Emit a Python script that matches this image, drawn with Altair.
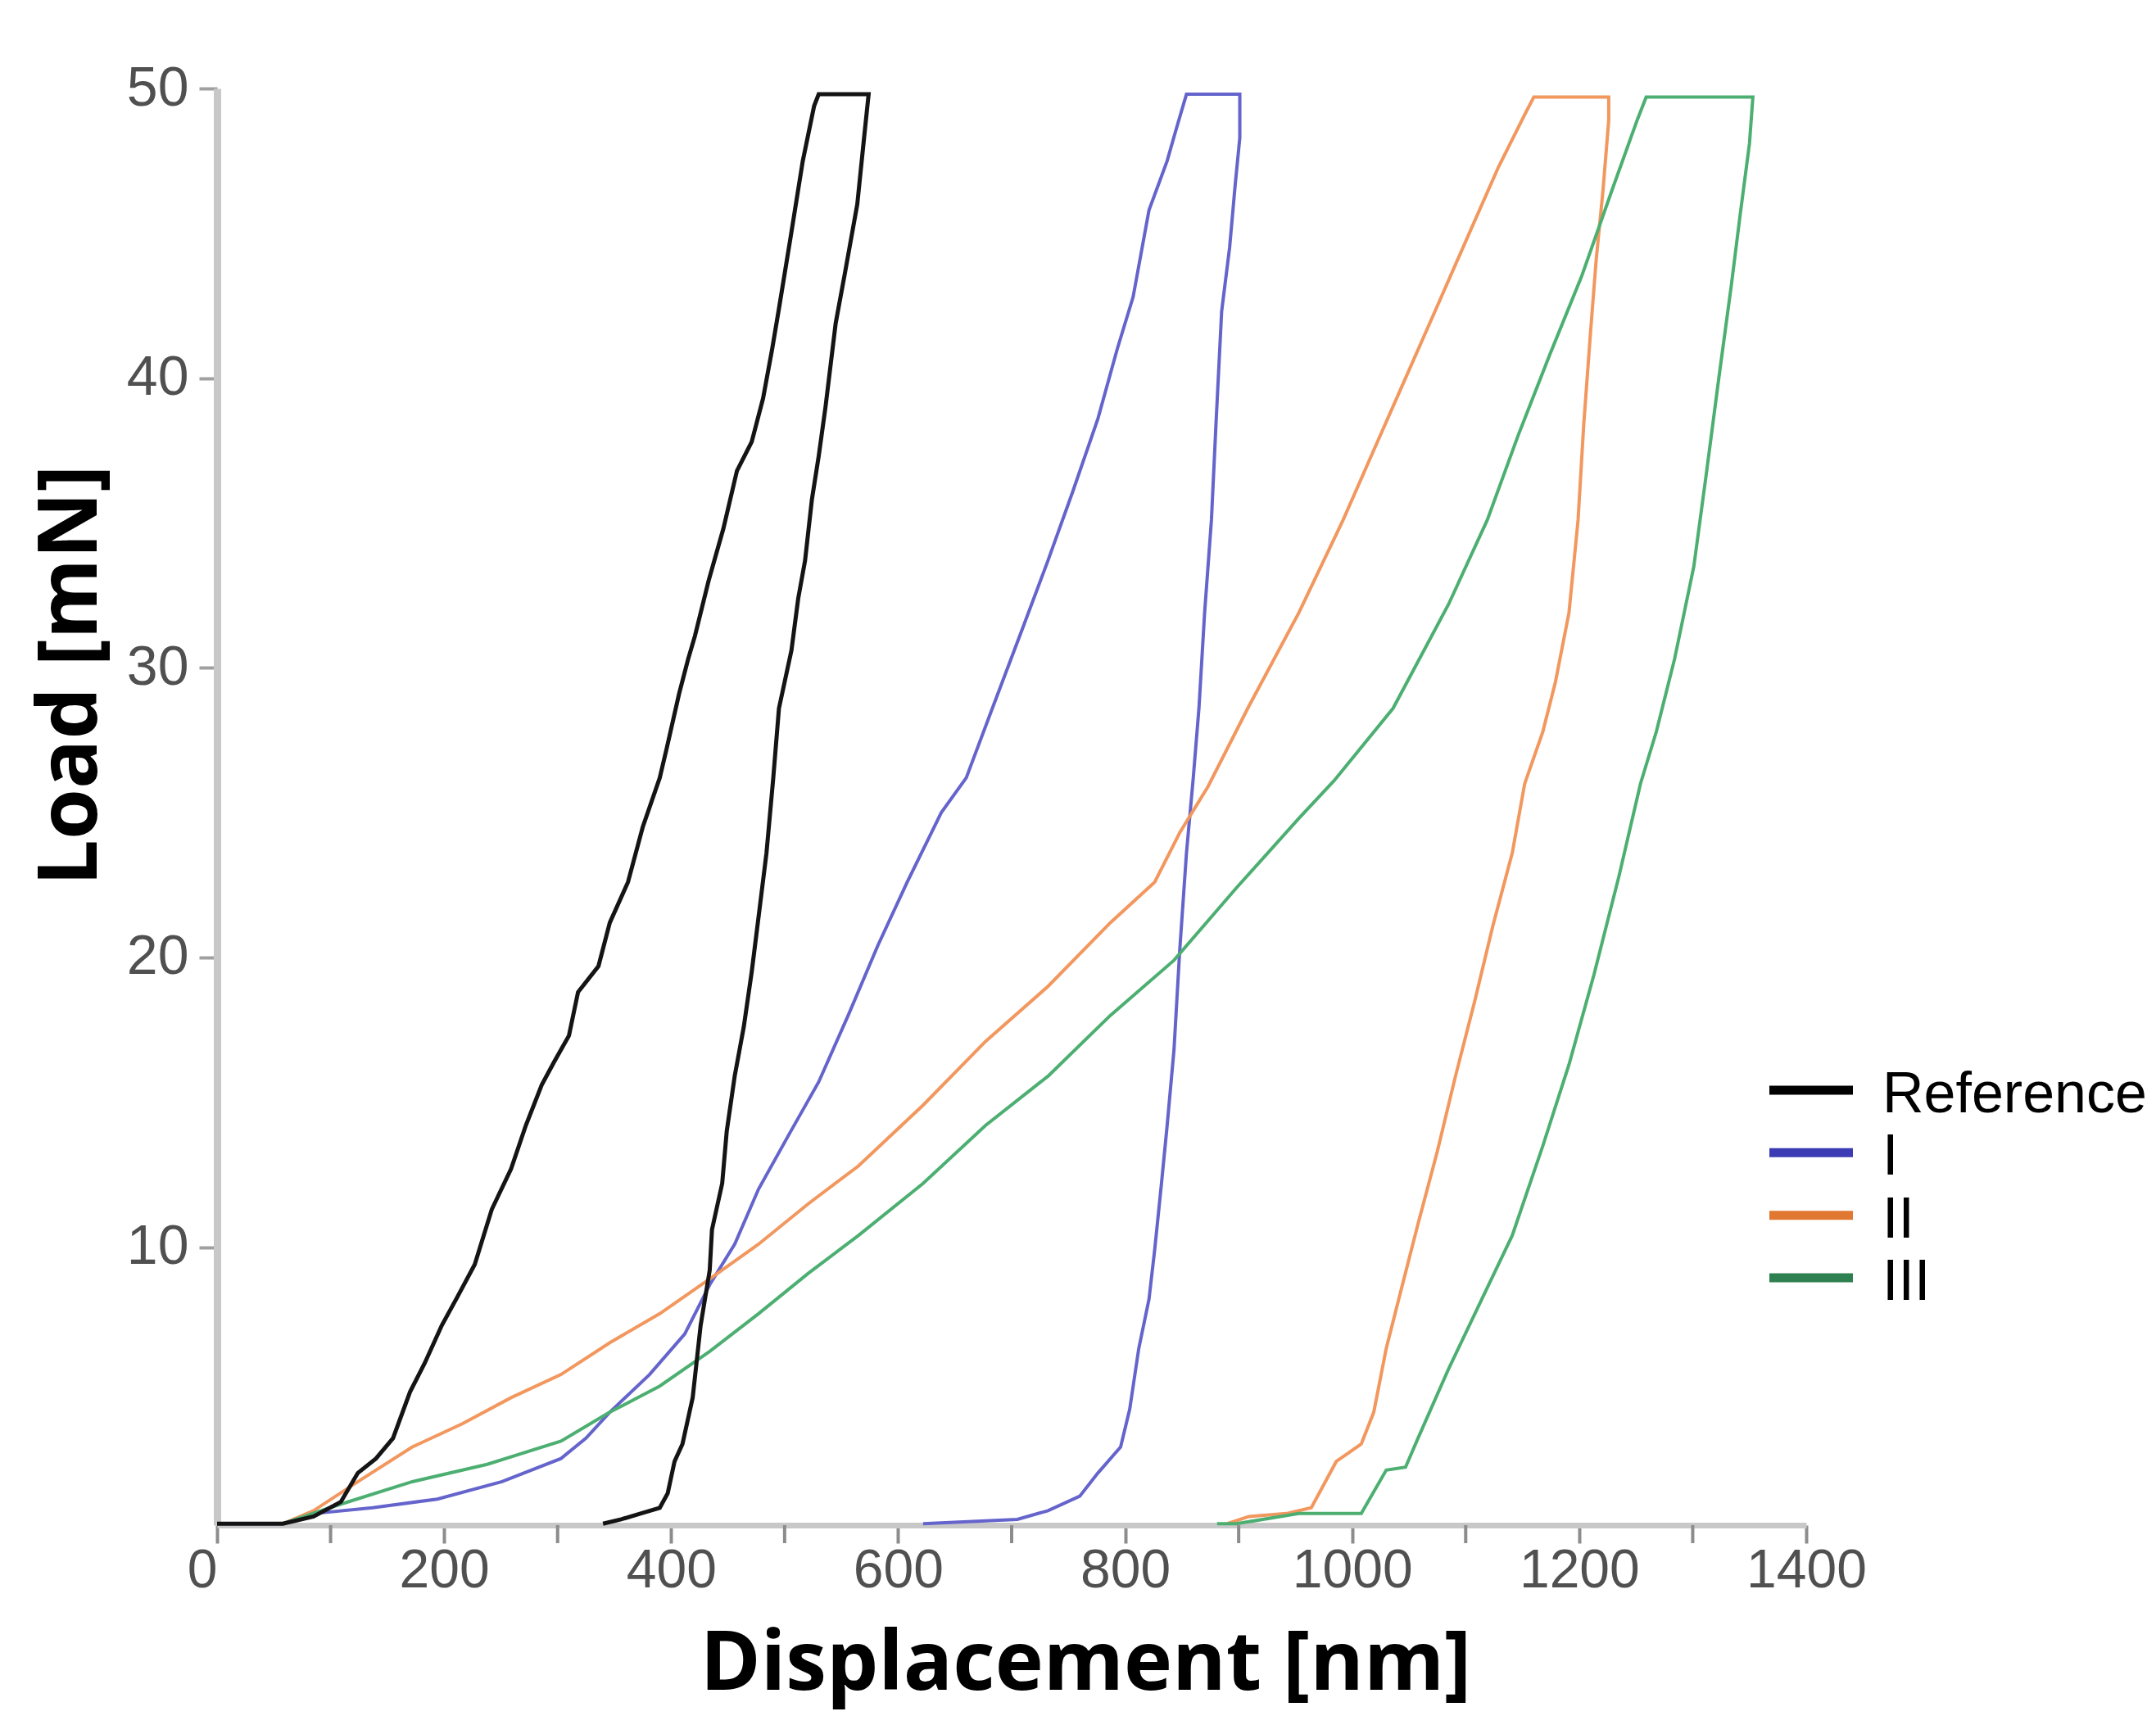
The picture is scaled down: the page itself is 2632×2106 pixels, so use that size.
import altair as alt
import pandas as pd

series_names = ["Reference", "I", "II", "III"]
line_colors = ["#141414", "#6464cc", "#f2975e", "#4caf71"]
legend_colors = ["#000000", "#3b3bb3", "#e07832", "#2e8050"]

# Reference (black) loading -> hold -> unloading
ref_disp = [0, 58, 85, 109, 124, 140, 155, 170, 183, 198, 212, 227, 242, 259, 272, 286, 297, 310, 318,
            336, 346, 362, 375, 390, 396, 407, 415, 421, 433, 446, 458, 471, 481, 489, 495, 505, 516,
            526, 530, 574, 570, 564, 553, 545, 536, 530, 524, 518, 512, 506, 495, 490, 484, 478, 471,
            464, 456, 449, 445, 436, 434, 426, 419, 410, 403, 397, 390, 373, 356, 340]
ref_load = [0.45, 0.45, 0.7, 1.2, 2.2, 2.7, 3.4, 5.0, 6.0, 7.3, 8.3, 9.4, 11.3, 12.7, 14.2, 15.6, 16.4,
            17.3, 18.8, 19.7, 21.2, 22.6, 24.5, 26.2, 27.2, 29.1, 30.3, 31.1, 33.0, 34.8, 36.8, 37.8,
            39.3, 41.0, 42.4, 44.8, 47.5, 49.4, 49.8, 49.8, 48.3, 46.0, 43.6, 41.9, 39.0, 37.3, 35.8,
            33.7, 32.4, 30.6, 28.6, 26.2, 23.6, 21.7, 19.5, 17.6, 15.9, 14.0, 12.2, 10.6, 9.2, 7.3,
            4.8, 3.2, 2.6, 1.5, 1.0, 0.8, 0.6, 0.45]

# Sample I (blue)
s1_disp = [0, 58, 85, 137, 194, 251, 303, 325, 346, 381, 412, 434, 456, 477, 504, 530, 556, 582, 608,
           638, 660, 683, 710, 732, 754, 776, 793, 807, 821, 837, 845, 854, 901, 901, 897, 892, 885,
           880, 876, 870, 865, 860, 854, 848, 843, 837, 832, 826, 821, 812, 804, 796, 776, 760, 732,
           705, 622]
s1_load = [0.45, 0.45, 0.8, 1.0, 1.3, 1.9, 2.7, 3.4, 4.3, 5.6, 7.0, 8.7, 10.1, 12.0, 13.9, 15.7, 18.0,
           20.4, 22.6, 25.0, 26.2, 28.6, 31.4, 33.7, 36.1, 38.6, 41.0, 42.8, 45.8, 47.5, 48.6, 49.8,
           49.8, 48.3, 46.7, 44.5, 42.3, 38.4, 35.1, 31.9, 28.6, 26.2, 23.6, 20.2, 16.8, 14.2, 12.2,
           9.9, 8.2, 6.5, 4.4, 3.1, 2.2, 1.4, 0.9, 0.6, 0.45]

# Sample II (orange)
s2_disp = [58, 85, 128, 172, 216, 259, 303, 346, 390, 434, 477, 521, 565, 622, 677, 732, 787, 826, 848,
           873, 908, 953, 992, 1020, 1047, 1074, 1102, 1129, 1152, 1160, 1226, 1226, 1221, 1215, 1210,
           1204, 1199, 1191, 1179, 1168, 1152, 1141, 1124, 1108, 1091, 1075, 1058, 1041, 1030, 1019,
           1008, 986, 964, 942, 909, 890]
s2_load = [0.45, 0.9, 2.0, 3.1, 3.9, 4.8, 5.6, 6.7, 7.7, 8.9, 10.1, 11.5, 12.8, 14.9, 17.1, 19.0, 21.2,
           22.6, 24.3, 25.9, 28.6, 31.9, 35.1, 37.6, 40.0, 42.4, 44.9, 47.3, 49.1, 49.7, 49.7, 48.9,
           46.5, 44.1, 41.6, 38.4, 35.1, 31.9, 29.5, 27.8, 26.0, 23.6, 21.1, 18.5, 15.9, 13.3, 10.8,
           8.2, 6.5, 4.3, 3.2, 2.6, 1.0, 0.8, 0.7, 0.45]

# Sample III (green)
s3_disp = [58, 107, 172, 238, 303, 346, 390, 434, 477, 521, 565, 622, 677, 732, 787, 843, 898, 953, 984,
           1036, 1085, 1119, 1146, 1174, 1202, 1229, 1251, 1259, 1353, 1350, 1342, 1334, 1323, 1312,
           1301, 1284, 1268, 1254, 1235, 1213, 1191, 1168, 1141, 1113, 1085, 1058, 1047, 1030, 1008,
           953, 898, 881]
s3_load = [0.45, 1.1, 1.9, 2.5, 3.3, 4.3, 5.2, 6.4, 7.7, 9.1, 10.4, 12.2, 14.2, 15.9, 18.0, 19.9, 22.4,
           24.8, 26.1, 28.6, 32.2, 35.1, 38.0, 40.8, 43.5, 46.5, 48.9, 49.7, 49.7, 48.1, 45.7, 43.2,
           40.0, 36.7, 33.5, 30.3, 27.8, 26.0, 22.8, 19.4, 16.3, 13.5, 10.4, 8.1, 5.8, 3.4, 2.4, 2.3,
           0.8, 0.8, 0.45, 0.45]

x_label_ticks = [0, 200, 400, 600, 800, 1000, 1200, 1400]
x_minor_ticks = [100, 300, 500, 700, 900, 1100, 1300]
y_ticks = [10, 20, 30, 40, 50]

rows = []
draw_order = ["I", "II", "III", "Reference"]
all_series = {
    "Reference": (ref_disp, ref_load),
    "I": (s1_disp, s1_load),
    "II": (s2_disp, s2_load),
    "III": (s3_disp, s3_load),
}
for name in draw_order:
    xs, ys = all_series[name]
    for i, (xv, yv) in enumerate(zip(xs, ys)):
        rows.append({"series": name, "disp": xv, "load": yv, "i": i,
                     "w": 5 if name == "Reference" else 4})
df = pd.DataFrame(rows)
legend_df = pd.DataFrame({"series": series_names})
minor_df = pd.DataFrame({"disp": x_minor_ticks})

tick_font = "Liberation Sans"
PLOT_W, PLOT_H = 1940, 1754
TICK_LEN = 22

x_axis = alt.Axis(
    values=x_label_ticks, format="d", labelLimit=500,
    title="Displacement [nm]",
    titleFont="Open Sans", titleFontWeight="bold", titleFontSize=100, titleColor="#000000",
    titleX=1060, titleY=200, titleAlign="center", titleBaseline="alphabetic",
    labelFont=tick_font, labelFontSize=66, labelColor="#505050", labelPadding=1,
    labelAlign={"condition": {"test": "datum.value == 0", "value": "right"}, "value": "center"},
    tickSize=TICK_LEN, tickWidth=4, tickColor="#8c8c8c",
    domainColor="#c8c8c8", domainWidth=7, grid=False, labelOverlap=False,
)
y_axis = alt.Axis(
    values=y_ticks, format="d",
    title="Load [mN]",
    titleFont="Open Sans", titleFontWeight="bold", titleFontSize=100, titleColor="#000000",
    titleX=-148, titleY=716, titleAngle=270, titleAlign="center", titleBaseline="alphabetic",
    labelFont=tick_font, labelFontSize=68, labelColor="#505050", labelPadding=13,
    tickSize=TICK_LEN, tickWidth=4, tickColor="#a0a0a0",
    domainColor="#c8c8c8", domainWidth=9, grid=False,
)

x_scale = alt.Scale(domain=[0, 1400], nice=False, zero=False)

lines = alt.Chart(df).mark_line(interpolate="linear", strokeJoin="miter", strokeCap="butt").encode(
    x=alt.X("disp:Q", scale=x_scale, axis=x_axis),
    y=alt.Y("load:Q", scale=alt.Scale(domain=[0.4, 50], nice=False, zero=False), axis=y_axis),
    color=alt.Color("series:N", scale=alt.Scale(domain=series_names, range=line_colors), legend=None),
    strokeWidth=alt.StrokeWidth("w:Q", scale=None),
    order="i:Q",
    detail="series:N",
)

# minor ticks (every 100 nm) drawn just under the x axis line
minor = alt.Chart(minor_df).mark_rule(color="#8c8c8c", strokeWidth=4).encode(
    x=alt.X("disp:Q", scale=x_scale, axis=x_axis),
    y=alt.value(PLOT_H),
    y2=alt.value(PLOT_H + TICK_LEN),
)

leg_y = alt.Y("series:N", sort=series_names,
              scale=alt.Scale(type="point", domain=series_names, range=[1223, 1452], padding=0),
              axis=None)
leg_color = alt.Color("series:N", scale=alt.Scale(domain=series_names, range=legend_colors), legend=None)

legend_lines = alt.Chart(legend_df).mark_rule(strokeWidth=11).encode(
    x=alt.value(1895), x2=alt.value(1997), y=leg_y, color=leg_color,
)
legend_text = alt.Chart(legend_df).mark_text(
    align="left", baseline="middle", font="Liberation Sans", fontSize=70, color="#000000", dy=6,
).encode(
    x=alt.value(2033), y=leg_y, text="series:N",
)
legend = alt.layer(legend_lines, legend_text)

chart = alt.layer(lines, minor, legend).resolve_scale(y="independent", color="independent").properties(
    width=PLOT_W, height=PLOT_H,
    autosize=alt.AutoSizeParams(type="none"),
    padding={"left": 257, "top": 100, "right": 415, "bottom": 230},
    background="#ffffff",
).configure_view(stroke=None)

chart.save("out.html", embed_options={"renderer": "svg", "actions": False})
